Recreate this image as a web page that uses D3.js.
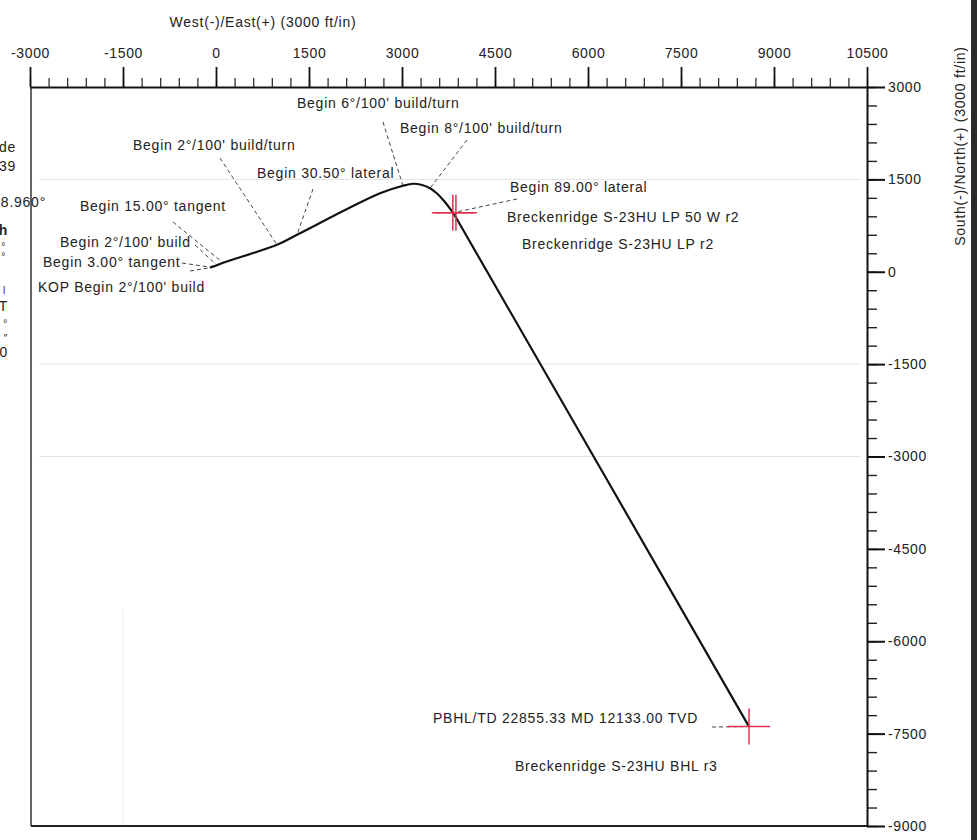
<!DOCTYPE html>
<html>
<head>
<meta charset="utf-8">
<script src="https://cdn.jsdelivr.net/npm/d3@7"></script>
<style>
  body { margin: 0; background: #fff; }
  svg { display: block; font-family: 'Liberation Sans', Arial, sans-serif; }
  .lbl { font-size: 14px; fill: #222; letter-spacing: 0.75px; }
  .tick text { font-size: 14px; fill: #222; letter-spacing: 0.6px; font-family: 'Liberation Sans', Arial, sans-serif; }
</style>
</head>
<body>
<svg></svg>
<script>
// axis ticks (ft)
const xTicks = [-3000, -1500, 0, 1500, 3000, 4500, 6000, 7500, 9000, 10500]
const yTicks = [3000, 1500, 0, -1500, -3000, -4500, -6000, -7500, -9000]
const minorStep = 300

// well path stations, east / north of surface (ft)
const pathEast = [-97, -81, 16, 113, 984, 1306, 2645, 3016, 3177, 3323, 3452, 3565, 3661, 3742, 3823, 4049, 8597]
const pathNorth = [65, 73, 106, 146, 438, 601, 1274, 1396, 1429, 1409, 1356, 1270, 1169, 1068, 958, 568, -7386]

// plan events and the station each one points at
const eventText = [
  "KOP Begin 2°/100' build",
  'Begin 3.00° tangent',
  "Begin 2°/100' build",
  'Begin 15.00° tangent',
  "Begin 2°/100' build/turn",
  'Begin 30.50° lateral',
  "Begin 6°/100' build/turn",
  "Begin 8°/100' build/turn",
  'Begin 89.00° lateral',
  'PBHL/TD 22855.33 MD 12133.00 TVD'
]
const eventStation = [0, 1, 2, 3, 4, 5, 7, 10, 14, 16]

// targets
const targetName = ['Breckenridge S-23HU LP 50 W r2', 'Breckenridge S-23HU LP r2', 'Breckenridge S-23HU BHL r3']
const targetEast = [3820, 3870, 8597]
const targetNorth = [958, 958, -7386]

// faint grid lines that survived the scan
const gridNorth = [1500, -1500, -3000]
const gridEast = [-1500]

// cut-off text at the left page edge
const leftBits = ['de', '39', '8.960°', 'h', '°', '°', 'l', 'T', '°', '″', '0']

// ---- layout ----
const width = 977
const height = 840

// label text position and leader start, pixels
const eventPos = [
  [38, 292, 190, 271], [43, 267, 182, 263], [60, 247, 195, 245], [80, 211, 173, 222],
  [133, 150, 220, 158], [257, 178, 313, 189], [297, 108, 383, 122], [400, 133, 467, 140],
  [510, 192, 517, 199], [433, 723, 712, 727]
]
const targetPos = [[507, 222], [522, 249], null]
const bhlPos = [515, 771]
const leftPos = [[16, 152], [16, 171], [46, 207], [8, 235], [6, 250], [6, 260], [6, 294], [8, 311], [8, 327], [8, 342], [8, 357]]

const svg = d3.select('svg').attr('width', width).attr('height', height)

const x = d3.scaleLinear().domain([-3000, 10500]).range([30, 867])
const y = d3.scaleLinear().domain([-9000, 3000]).range([826, 87])

// grid
svg.selectAll('.gh').data(gridNorth).enter().append('line')
  .attr('x1', x(-2850)).attr('x2', x(10400))
  .attr('y1', d => y(d)).attr('y2', d => y(d))
  .attr('stroke', '#e3e3e3').attr('stroke-width', 1)
svg.selectAll('.gv').data(gridEast).enter().append('line')
  .attr('x1', d => x(d)).attr('x2', d => x(d))
  .attr('y1', y(-5500)).attr('y2', y(-9000))
  .attr('stroke', '#ececec').attr('stroke-width', 1)

// frame left / bottom
svg.append('line').attr('x1', x(-3000) + 1).attr('x2', x(-3000) + 1)
  .attr('y1', y(3000)).attr('y2', y(-9000)).attr('stroke', '#333').attr('stroke-width', 1.5)
svg.append('line').attr('x1', x(-3000) + 1).attr('x2', x(10500))
  .attr('y1', y(-9000)).attr('y2', y(-9000)).attr('stroke', '#222').attr('stroke-width', 1.8)

// top axis
const minorX = d3.range(-3000, 10501, minorStep)
svg.append('g').attr('transform', `translate(0,${y(3000)})`)
  .call(d3.axisTop(x).tickValues(minorX).tickSize(9).tickSizeOuter(0).tickFormat(''))
  .call(g => g.select('.domain').remove())
  .call(g => g.selectAll('line').attr('stroke', '#222').attr('stroke-width', 1.2))
svg.append('g').attr('transform', `translate(0,${y(3000)})`)
  .call(d3.axisTop(x).tickValues(xTicks).tickSize(20).tickSizeOuter(0).tickPadding(9).tickFormat(d => String(d)))
  .call(g => g.select('.domain').attr('stroke', '#111').attr('stroke-width', 2))
  .call(g => g.selectAll('line').attr('stroke', '#111').attr('stroke-width', 1.8))

// right axis
const minorY = d3.range(-9000, 3001, minorStep)
svg.append('g').attr('transform', `translate(${x(10500)},0)`)
  .call(d3.axisRight(y).tickValues(minorY).tickSize(10).tickSizeOuter(0).tickFormat(''))
  .call(g => g.select('.domain').remove())
  .call(g => g.selectAll('line').attr('stroke', '#222').attr('stroke-width', 1.4))
svg.append('g').attr('transform', `translate(${x(10500)},0)`)
  .call(d3.axisRight(y).tickValues(yTicks).tickSize(18).tickSizeOuter(0).tickPadding(3).tickFormat(d => String(d)))
  .call(g => g.select('.domain').attr('stroke', '#111').attr('stroke-width', 2))
  .call(g => g.selectAll('line').attr('stroke', '#111').attr('stroke-width', 2))

// axis titles
svg.append('text').attr('class', 'lbl').attr('x', 263).attr('y', 27)
  .attr('text-anchor', 'middle').text('West(-)/East(+) (3000 ft/in)')
svg.append('text').attr('class', 'lbl')
  .attr('transform', 'translate(965,146) rotate(-90)')
  .attr('text-anchor', 'middle').text('South(-)/North(+) (3000 ft/in)')

// leaders
svg.selectAll('.leader').data(eventText).enter().append('line')
  .attr('x1', (d, i) => eventPos[i][2]).attr('y1', (d, i) => eventPos[i][3])
  .attr('x2', (d, i) => x(pathEast[eventStation[i]]))
  .attr('y2', (d, i) => y(pathNorth[eventStation[i]]))
  .attr('stroke', '#444').attr('stroke-width', 1).attr('stroke-dasharray', '4,3')

// well path
const line = d3.line()
  .x(i => x(pathEast[i]))
  .y(i => y(pathNorth[i]))
  .curve(d3.curveCatmullRom.alpha(0.5))
svg.append('path').datum(d3.range(pathEast.length))
  .attr('d', line).attr('fill', 'none').attr('stroke', '#111').attr('stroke-width', 2.2)

// target crosshairs
targetName.forEach((n, i) => {
  const cx = x(targetEast[i])
  const cy = y(targetNorth[i])
  const g = svg.append('g').attr('stroke', '#e0304e').attr('stroke-width', 1.5)
  g.append('line').attr('x1', cx - 21).attr('x2', cx + 21).attr('y1', cy).attr('y2', cy)
  g.append('line').attr('x1', cx).attr('x2', cx).attr('y1', cy - 18).attr('y2', cy + 18)
})

// event labels
svg.selectAll('.ev').data(eventText).enter().append('text')
  .attr('class', 'lbl')
  .attr('x', (d, i) => eventPos[i][0]).attr('y', (d, i) => eventPos[i][1])
  .text(d => d)

// target labels
targetName.forEach((n, i) => {
  const p = targetPos[i] || bhlPos
  svg.append('text').attr('class', 'lbl').attr('x', p[0]).attr('y', p[1]).text(n)
})

// cut-off text at the left edge
svg.selectAll('.bit').data(leftBits).enter().append('text')
  .attr('class', 'lbl')
  .attr('x', (d, i) => leftPos[i][0]).attr('y', (d, i) => leftPos[i][1])
  .attr('text-anchor', 'end')
  .style('font-size', d => d.length === 1 && /[°″l]/.test(d) ? '10px' : '14px')
  .style('font-weight', d => d === 'h' ? 'bold' : null)
  .text(d => d)

// dark scanner edge on the right
svg.append('rect').attr('x', 971).attr('y', 0).attr('width', 6).attr('height', height).attr('fill', '#2b2b2b')
</script>
</body>
</html>
